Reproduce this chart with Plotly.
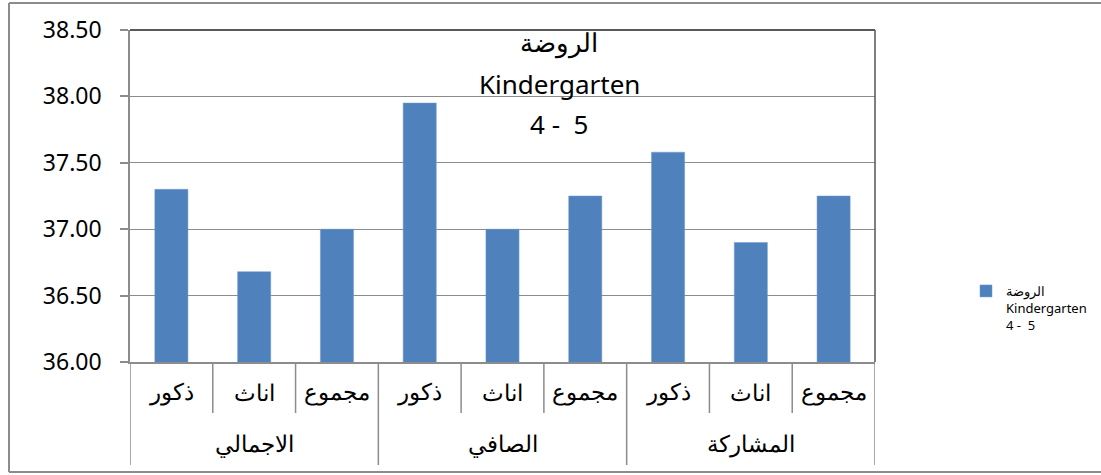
import plotly.graph_objects as go

groups = ["الاجمالي", "الصافي", "المشاركة"]
subcats = ["ذكور", "اناث", "مجموع"]
values = [37.30, 36.68, 37.00, 37.95, 37.00, 37.25, 37.58, 36.90, 37.25]
series_name = "الروضة<br>Kindergarten<br>4 -  5"
title_lines = ["الروضة", "Kindergarten", "4 -  5"]
y_ticks = [36.0, 36.5, 37.0, 37.5, 38.0, 38.5]

W, H = 1101, 475
PL, PR, PT, PB = 130, 875, 30, 362  # plot area in pixels
L, T = PL, PT
pw = PR - PL
ph = PB - PT
R = W - L - pw
B = H - T - ph

def px_x(p):
    return (p - PL) / pw

def px_y(p):
    return (PB - p) / ph

n = len(groups) * len(subcats)
xs = list(range(n))

fig = go.Figure()
fig.add_trace(go.Bar(
    x=xs, y=values, width=0.4, name=series_name,
    marker=dict(color="#4F81BD", line=dict(color="#6f9bd0", width=0.5)),
    showlegend=True,
))

arab_font = "Times New Roman, Liberation Serif, DejaVu Serif, serif"
annotations = []
shapes = []
for gi, g in enumerate(groups):
    for si, s in enumerate(subcats):
        i = gi * len(subcats) + si
        annotations.append(dict(x=i, y=px_y(393), xref="x", yref="paper", text=s,
                                showarrow=False, font=dict(family=arab_font, size=23, color="black"),
                                xanchor="center", yanchor="middle"))
    annotations.append(dict(x=gi * len(subcats) + 1, y=px_y(445), xref="x", yref="paper", text=g,
                            showarrow=False, font=dict(family=arab_font, size=23, color="black"),
                            xanchor="center", yanchor="middle"))
for b in range(n + 1):
    xb = b - 0.5
    bottom = px_y(465) if b % len(subcats) == 0 else px_y(413)
    shapes.append(dict(type="line", xref="x", yref="paper", x0=xb, x1=xb, y0=0, y1=bottom,
                       line=dict(color="#8c8c8c", width=1.5)))

shapes.append(dict(type="line", xref="paper", yref="paper", x0=0, x1=1, y0=1, y1=1,
                   line=dict(color="#222222", width=1.5)))
shapes.append(dict(type="line", xref="paper", yref="paper", x0=1, x1=1, y0=0, y1=1,
                   line=dict(color="#555555", width=1.5)))
# outer chart frame: top, left, bottom (right edge lies outside the picture)
frame = dict(color="#8c8c8c", width=2)
fx0, fx1, fy0, fy1 = px_x(9), px_x(1101), px_y(472), px_y(3)
shapes.append(dict(type="line", xref="paper", yref="paper", x0=fx0, x1=fx1, y0=fy1, y1=fy1, line=frame))
shapes.append(dict(type="line", xref="paper", yref="paper", x0=fx0, x1=fx1, y0=fy0, y1=fy0, line=frame))
shapes.append(dict(type="line", xref="paper", yref="paper", x0=fx0, x1=fx0, y0=fy0, y1=fy1, line=frame))

for k, (t, yy) in enumerate(zip(title_lines, [42, 84, 124])):
    annotations.append(dict(x=px_x(559), y=px_y(yy), xref="paper", yref="paper", text=t,
                            showarrow=False, xanchor="center", yanchor="middle",
                            font=dict(family="Noto Sans, " + arab_font if k == 0 else "Noto Sans",
                                      size=26, color="black")))

fig.update_layout(
    width=W, height=H,
    margin=dict(l=L, r=R, t=T, b=B, autoexpand=False),
    paper_bgcolor="white", plot_bgcolor="white",
    xaxis=dict(range=[-0.5, n - 0.5], showticklabels=False, showgrid=False, zeroline=False,
               showline=True, linecolor="#8c8c8c", linewidth=1.5, ticks=""),
    yaxis=dict(range=[36, 38.5], tickvals=y_ticks, tickformat=".2f", showgrid=True,
               gridcolor="#8c8c8c", gridwidth=1.3, zeroline=False, showline=True,
               linecolor="#8c8c8c", linewidth=1.5, ticks="outside", ticklen=8,
               tickcolor="#8c8c8c", tickwidth=1.5, ticklabelstandoff=14,
               tickfont=dict(family="Noto Sans", size=23, color="black")),
    legend=dict(x=px_x(966), y=px_y(276), xanchor="left", yanchor="top",
                font=dict(family="Noto Sans, " + arab_font, size=13, color="black"),
                bgcolor="rgba(0,0,0,0)", valign="top", itemwidth=30, tracegroupgap=0),
    annotations=annotations,
    shapes=shapes,
    bargap=0.6,
)

fig.write_html(
    "out.html",
    config={"displayModeBar": False},
    post_script="document.body.style.margin='0';document.body.style.overflow='hidden';",
)
